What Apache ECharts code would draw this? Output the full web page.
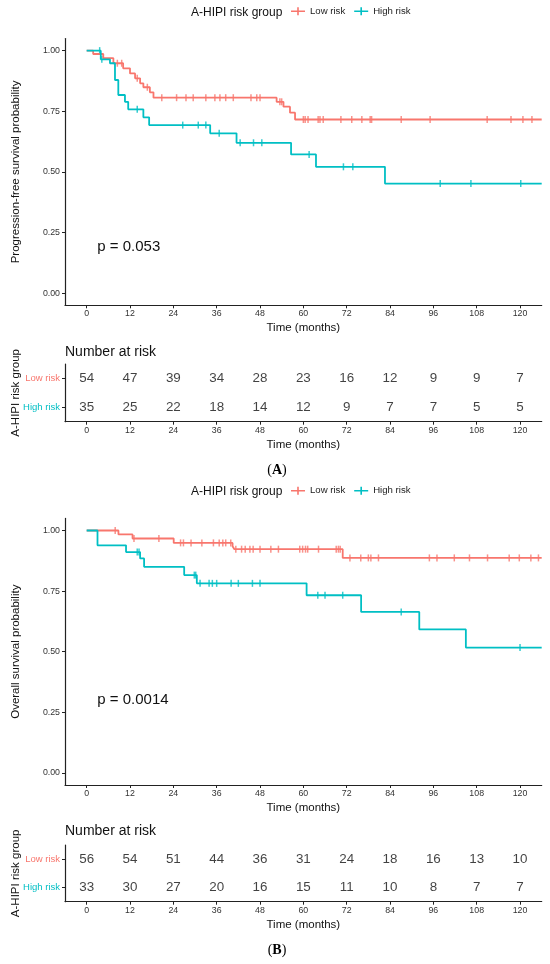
<!DOCTYPE html>
<html>
<head>
<meta charset="utf-8">
<script src="https://cdn.jsdelivr.net/npm/echarts@6/dist/echarts.min.js"></script>
<style>
html,body{margin:0;padding:0;background:#fff;}
#chart{width:550px;height:964px;}
</style>
</head>
<body>
<div id="chart"></div>
<script>
// ---------- data ----------
const monthTicks = [0, 12, 24, 36, 48, 60, 72, 84, 96, 108, 120];
const probTicks = [0, 0.25, 0.5, 0.75, 1];
const groups = ['Low risk', 'High risk'];

// (A) Progression-free survival
const pfsLowTime = [0, 1.8, 4.6, 7.4, 10.1, 12.0, 13.4, 14.8, 15.7, 17.5, 18.5, 52.6, 54.5, 56.3, 57.7, 126];
const pfsLowSurv = [1, 0.986, 0.969, 0.948, 0.927, 0.906, 0.886, 0.865, 0.849, 0.828, 0.806, 0.789, 0.769, 0.744, 0.716, 0.716];
const pfsLowCens = [8.5, 9.7, 14.0, 16.8, 20.8, 24.9, 27.5, 29.5, 33.0, 35.5, 36.9, 38.5, 40.6, 45.5, 47.1, 48.0, 53.5, 54.0, 60.0, 60.5, 61.3, 64.1, 64.6, 65.5, 70.4, 73.4, 76.2, 78.5, 78.9, 87.1, 95.1, 110.9, 117.5, 120.8, 123.3];
const pfsHighTime = [0, 3.9, 6.45, 7.84, 8.76, 10.6, 11.5, 15.7, 17.3, 34.2, 41.5, 56.6, 63.5, 82.6, 126];
const pfsHighSurv = [1, 0.964, 0.948, 0.879, 0.817, 0.789, 0.758, 0.725, 0.693, 0.659, 0.62, 0.572, 0.521, 0.452, 0.452];
const pfsHighCens = [3.6, 4.2, 14.0, 26.6, 30.9, 33.0, 36.7, 42.5, 46.2, 48.5, 61.6, 71.1, 73.7, 97.9, 106.4, 120.2];
const pfsRiskLow = [54, 47, 39, 34, 28, 23, 16, 12, 9, 9, 7];
const pfsRiskHigh = [35, 25, 22, 18, 14, 12, 9, 7, 7, 5, 5];
const pfsP = 'p = 0.053';

// (B) Overall survival
const osLowTime = [0, 8.8, 12.7, 24.1, 40.4, 40.9, 70.9, 126];
const osLowSurv = [1, 0.984, 0.967, 0.949, 0.935, 0.923, 0.887, 0.887];
const osLowCens = [7.9, 13.1, 20.0, 26.0, 26.8, 28.9, 31.9, 35.1, 36.7, 37.7, 38.5, 39.9, 41.3, 42.9, 43.9, 45.2, 46.1, 48.0, 51.0, 53.1, 59.0, 59.8, 60.6, 61.2, 64.2, 69.1, 69.7, 70.2, 72.9, 75.9, 78.0, 78.7, 80.8, 94.9, 97.0, 101.8, 106.0, 111.0, 117.0, 119.8, 123.0, 125.1];
const osHighTime = [0, 3.0, 10.9, 14.8, 15.9, 27.0, 30.5, 60.9, 76.0, 92.1, 105.0, 126];
const osHighSurv = [1, 0.939, 0.911, 0.885, 0.850, 0.816, 0.782, 0.733, 0.664, 0.592, 0.517, 0.517];
const osHighCens = [14.0, 14.5, 29.8, 30.2, 31.4, 33.9, 34.8, 36.0, 40.0, 42.0, 45.9, 48.0, 64.0, 66.0, 70.9, 87.1, 120.0];
const osRiskLow = [56, 54, 51, 44, 36, 31, 24, 18, 16, 13, 10];
const osRiskHigh = [33, 30, 27, 20, 16, 15, 11, 10, 8, 7, 7];
const osP = 'p = 0.0014';

// ---------- style ----------
const RED = '#F8766D', CYAN = '#00BFC4';
const FONT = "'Liberation Sans', Arial, Helvetica, sans-serif";
const AX = '#222';
const L = 65, W = 476.7;

function stepAt(times, surv, t) {
  let v = surv[0];
  for (let i = 0; i < times.length; i++) if (times[i] <= t) v = surv[i];
  return v;
}
function curve(times, surv) { return times.map((t, i) => [t, surv[i]]); }
function cens(ct, times, surv) { return ct.map(t => [t, stepAt(times, surv, t)]); }
function riskData(low, high) {
  const d = [];
  monthTicks.forEach((m, i) => { d.push([m, 'Low risk', low[i]]); d.push([m, 'High risk', high[i]]); });
  return d;
}

function xAxisDef(gi) {
  return {
    type: 'value', gridIndex: gi, min: -6, max: 126,
    name: 'Time (months)', nameLocation: 'middle', nameGap: 17, nameMoveOverlap: false,
    nameTextStyle: { fontSize: 11.5, color: '#111', fontFamily: FONT },
    axisLine: { show: true, onZero: false, lineStyle: { color: AX, width: 1.2 } },
    axisTick: { show: true, length: 3, customValues: monthTicks, lineStyle: { color: AX } },
    axisLabel: { customValues: monthTicks, fontSize: 8.8, color: '#333', margin: 4, fontFamily: FONT },
    splitLine: { show: false }
  };
}
function kmYAxis(gi, name) {
  return {
    type: 'value', gridIndex: gi, min: -0.05, max: 1.05,
    name: name, nameLocation: 'middle', nameGap: 43, nameMoveOverlap: false,
    nameTextStyle: { fontSize: 11.5, color: '#111', fontFamily: FONT },
    axisLine: { show: true, onZero: false, lineStyle: { color: AX, width: 1.2 } },
    axisTick: { show: true, length: 3, customValues: probTicks, lineStyle: { color: AX } },
    axisLabel: { customValues: probTicks, fontSize: 8.8, color: '#333', margin: 5, fontFamily: FONT,
      formatter: v => Number(v).toFixed(2) },
    splitLine: { show: false }
  };
}
function tableYAxis(gi) {
  return {
    type: 'category', gridIndex: gi, data: ['High risk', 'Low risk'],
    name: 'A-HIPI risk group', nameLocation: 'middle', nameGap: 43, nameMoveOverlap: false,
    nameTextStyle: { fontSize: 11.5, color: '#111', fontFamily: FONT },
    axisLine: { show: true, onZero: false, lineStyle: { color: AX, width: 1.2 } },
    axisTick: { show: true, length: 3, alignWithLabel: true, lineStyle: { color: AX } },
    axisLabel: { fontSize: 9.5, margin: 5, fontFamily: FONT,
      color: v => (v === 'Low risk' ? RED : CYAN) },
    splitLine: { show: false }
  };
}
function kmSeries(ai, lowT, lowS, lowC, highT, highS, highC) {
  const line = (name, t, s, c) => ({
    name, type: 'line', xAxisIndex: ai, yAxisIndex: ai, step: 'end',
    data: curve(t, s), showSymbol: false, clip: true, silent: true,
    lineStyle: { color: c, width: 1.8 }, itemStyle: { color: c }
  });
  const mark = (name, ct, t, s, c) => ({
    name, type: 'scatter', xAxisIndex: ai, yAxisIndex: ai,
    data: cens(ct, t, s), symbol: 'rect', symbolSize: [1.5, 7], silent: true,
    itemStyle: { color: c }
  });
  return [
    line('Low risk', lowT, lowS, RED), mark('Low risk', lowC, lowT, lowS, RED),
    line('High risk', highT, highS, CYAN), mark('High risk', highC, highT, highS, CYAN)
  ];
}
function riskSeries(ai, low, high, id) {
  return {
    name: id, type: 'scatter', xAxisIndex: ai, yAxisIndex: ai,
    data: riskData(low, high), symbolSize: 1, silent: true,
    itemStyle: { color: 'rgba(0,0,0,0)' },
    label: { show: true, position: 'inside', formatter: p => String(p.value[2]),
      fontSize: 13.4, color: '#111', fontFamily: FONT }
  };
}
function legendDef(top) {
  return {
    data: groups, left: 291, top: top, padding: 0, orient: 'horizontal',
    itemWidth: 14, itemHeight: 8, itemGap: 9, symbolKeepAspect: false,
    icon: 'path://M0,3.2H6.2V0H7.8V3.2H14V4.8H7.8V8H6.2V4.8H0Z',
    textStyle: { fontSize: 9.6, color: '#222', fontFamily: FONT }, selectedMode: false
  };
}
function txt(x, y, text, size) {
  return {
    type: 'text', x: x, y: y, silent: true,
    style: { text: text, fontSize: size, fontFamily: FONT, fill: '#111',
      align: 'left', verticalAlign: 'middle', textAlign: 'left', textVerticalAlign: 'middle' }
  };
}
function panelLabel(y, letter) {
  const serif = "'Liberation Serif', 'Times New Roman', serif";
  return {
    type: 'text', x: 277, y: y, silent: true,
    style: { text: '{n|(}{b|' + letter + '}{n|)}', align: 'center', verticalAlign: 'middle',
      textAlign: 'center', textVerticalAlign: 'middle',
      rich: { n: { fontSize: 14, fontFamily: serif, color: '#111' },
              b: { fontSize: 14, fontWeight: 'bold', fontFamily: serif, color: '#111' } } }
  };
}
const gridBase = { left: L, width: W, containLabel: false, outerBoundsMode: 'none' };

const chart = echarts.init(document.getElementById('chart'), null, { renderer: 'canvas' });
chart.setOption({
  animation: false,
  backgroundColor: '#fff',
  grid: [
    Object.assign({ top: 38.5, height: 266.8 }, gridBase),
    Object.assign({ top: 364, height: 57.7 }, gridBase),
    Object.assign({ top: 518.4, height: 266.6 }, gridBase),
    Object.assign({ top: 845, height: 56.7 }, gridBase)
  ],
  xAxis: [xAxisDef(0), xAxisDef(1), xAxisDef(2), xAxisDef(3)],
  yAxis: [
    kmYAxis(0, 'Progression-free survival probability'),
    tableYAxis(1),
    kmYAxis(2, 'Overall survival probability'),
    tableYAxis(3)
  ],
  legend: [legendDef(6.3), legendDef(485.7)],
  series: [].concat(
    kmSeries(0, pfsLowTime, pfsLowSurv, pfsLowCens, pfsHighTime, pfsHighSurv, pfsHighCens),
    [riskSeries(1, pfsRiskLow, pfsRiskHigh, 'riskA')],
    kmSeries(2, osLowTime, osLowSurv, osLowCens, osHighTime, osHighSurv, osHighCens),
    [riskSeries(3, osRiskLow, osRiskHigh, 'riskB')]
  ),
  graphic: [
    txt(191, 12.3, 'A-HIPI risk group', 12),
    txt(191, 491.7, 'A-HIPI risk group', 12),
    txt(97.3, 246.7, pfsP, 15),
    txt(97.3, 700, osP, 15),
    txt(65, 351.7, 'Number at risk', 14),
    txt(65, 831, 'Number at risk', 14),
    panelLabel(470, 'A'),
    panelLabel(950, 'B')
  ]
});
</script>
</body>
</html>
